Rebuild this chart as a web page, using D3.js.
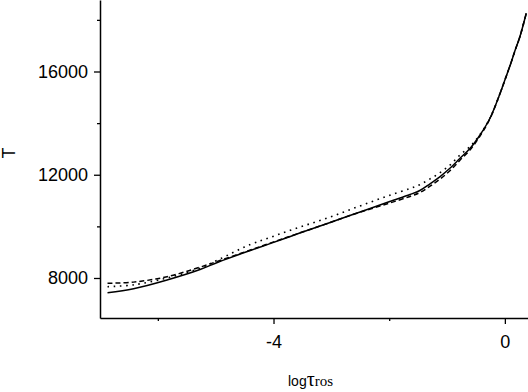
<!DOCTYPE html>
<html>
<head>
<meta charset="utf-8">
<script src="https://cdn.jsdelivr.net/npm/d3@7"></script>
<style>
  html, body { margin: 0; padding: 0; background: #fff; }
  svg { display: block; }
  .tick text { font-family: "Liberation Sans", Arial, sans-serif; font-size: 18px; fill: #000; }
</style>
</head>
<body>
<svg id="chart" width="528" height="392"></svg>
<script>
// log tau_ros grid
const logTau = [-6.87, -6.42, -5.84, -5.27, -4.95, -4.40, -4.06, -3.71, -3.37, -3.02, -2.68, -2.33, -1.99, -1.64, -1.47, -1.30, -1.12, -0.95, -0.78, -0.60, -0.43, -0.26, -0.09, 0.00, 0.09, 0.17, 0.26, 0.37];
// solid model
const tSolid  = [7430, 7585, 7925, 8330, 8620, 9065, 9330, 9610, 9880, 10150, 10420, 10690, 10965, 11235, 11390, 11640, 11930, 12250, 12630, 13025, 13540, 14180, 15110, 15670, 16230, 16775, 17350, 18255];
// dashed model
const tDashed = [7795, 7840, 8050, 8420, 8660, 9085, 9350, 9620, 9880, 10150, 10420, 10670, 10905, 11160, 11310, 11545, 11835, 12155, 12555, 12965, 13500, 14160, 15110, 15670, 16230, 16775, 17350, 18255];
// dotted model
const tDotted = [7663, 7735, 8000, 8380, 8710, 9300, 9570, 9850, 10100, 10360, 10645, 10935, 11205, 11465, 11615, 11830, 12080, 12375, 12755, 13100, 13560, 14180, 15110, 15670, 16230, 16775, 17350, 18255];

const xMajor = [-4, 0];
const xMinor = [-6, -2];
const yMajor = [8000, 12000, 16000];
const yMinor = [10000, 14000, 18000];

const svg = d3.select("#chart");
const x = d3.scaleLinear().domain([-7, 0.4]).range([100, 528]);
const y = d3.scaleLinear().domain([6450, 18770]).range([318, 0]);

// minor ticks
svg.append("g").attr("transform", "translate(0,318)")
  .call(d3.axisBottom(x).tickValues(xMinor).tickSize(3).tickSizeOuter(0).tickFormat(""))
  .call(g => g.select(".domain").remove())
  .call(g => g.selectAll("line").attr("stroke", "#000").attr("stroke-width", 1.3));
svg.append("g").attr("transform", "translate(100,0)")
  .call(d3.axisLeft(y).tickValues(yMinor).tickSize(3).tickSizeOuter(0).tickFormat(""))
  .call(g => g.select(".domain").remove())
  .call(g => g.selectAll("line").attr("stroke", "#000").attr("stroke-width", 1.3));

// major axes
svg.append("g").attr("transform", "translate(0,318)")
  .call(d3.axisBottom(x).tickValues(xMajor).tickSize(6).tickSizeOuter(0).tickPadding(11).tickFormat(d => String(d)))
  .call(g => g.select(".domain").attr("stroke", "#000").attr("stroke-width", 1.5))
  .call(g => g.selectAll("line").attr("stroke", "#000").attr("stroke-width", 1.3))
  .call(g => g.selectAll("text").attr("font-family", null).attr("font-size", null));
svg.append("g").attr("transform", "translate(100,0)")
  .call(d3.axisLeft(y).tickValues(yMajor).tickSize(6).tickSizeOuter(0).tickPadding(6).tickFormat(d => String(d)))
  .call(g => g.select(".domain").attr("stroke", "#000").attr("stroke-width", 1.5))
  .call(g => g.selectAll("line").attr("stroke", "#000").attr("stroke-width", 1.3))
  .call(g => g.selectAll("text").attr("font-family", null).attr("font-size", null));

// lines
const line = vals => d3.line()
  .x((d, i) => x(logTau[i]))
  .y(d => y(d))
  .curve(d3.curveCatmullRom.alpha(0.5))(vals);

svg.append("path").attr("d", line(tDotted)).attr("fill", "none")
  .attr("stroke", "#000").attr("stroke-width", 1.6).attr("stroke-dasharray", "1.6,4.6");
svg.append("path").attr("d", line(tDashed)).attr("fill", "none")
  .attr("stroke", "#000").attr("stroke-width", 1.5).attr("stroke-dasharray", "5,3");
svg.append("path").attr("d", line(tSolid)).attr("fill", "none")
  .attr("stroke", "#000").attr("stroke-width", 1.5);

// y label
svg.append("text")
  .attr("transform", "translate(15,153) rotate(-90)")
  .attr("text-anchor", "middle")
  .attr("font-family", "Liberation Sans, Arial, sans-serif")
  .attr("font-size", 18)
  .text("T");

// x label
const xl = svg.append("text").attr("x", 288).attr("y", 386);
xl.append("tspan").attr("font-family", "Liberation Sans, Arial, sans-serif").attr("font-size", 14).text("log");
xl.append("tspan").attr("font-family", "Liberation Serif, Times New Roman, serif").attr("font-size", 20).text("τ");
xl.append("tspan").attr("font-family", "Liberation Serif, Times New Roman, serif").attr("font-size", 15).text("ros");
</script>
</body>
</html>
